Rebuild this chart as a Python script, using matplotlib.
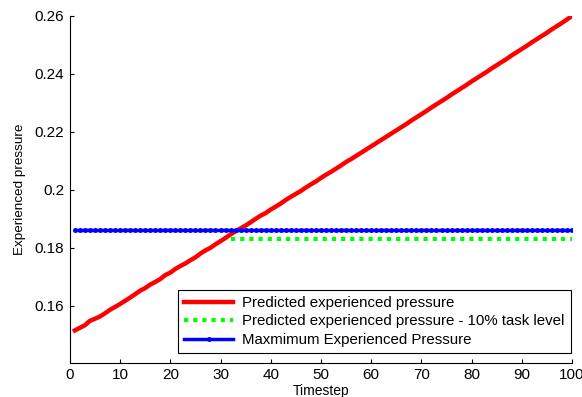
import numpy as np
import matplotlib.pyplot as plt

plt.rcParams['font.family'] = ['Liberation Sans', 'DejaVu Sans']

timesteps = list(range(1, 101))
predicted = [
    0.1515, 0.1524, 0.1533, 0.1548, 0.1555, 0.1563, 0.1574, 0.1586, 0.1596, 0.1606,
    0.1617, 0.1628, 0.1640, 0.1652, 0.1661, 0.1673, 0.1682, 0.1692, 0.1706, 0.1714,
    0.1727, 0.1737, 0.1746, 0.1757, 0.1767, 0.1780, 0.1791, 0.1800, 0.1812, 0.1823,
    0.1834, 0.1846, 0.1857, 0.1867, 0.1877, 0.1888, 0.1900, 0.1911, 0.1920, 0.1932,
    0.1942, 0.1953, 0.1965, 0.1976, 0.1986, 0.1996, 0.2008, 0.2019, 0.2029, 0.2041,
    0.2052, 0.2062, 0.2073, 0.2084, 0.2096, 0.2106, 0.2117, 0.2128, 0.2139, 0.2150,
    0.2161, 0.2172, 0.2183, 0.2194, 0.2205, 0.2216, 0.2227, 0.2239, 0.2250, 0.2261,
    0.2272, 0.2284, 0.2295, 0.2306, 0.2317, 0.2329, 0.2340, 0.2351, 0.2362, 0.2374,
    0.2385, 0.2396, 0.2407, 0.2419, 0.2430, 0.2441, 0.2452, 0.2464, 0.2475, 0.2486,
    0.2497, 0.2509, 0.2520, 0.2531, 0.2542, 0.2554, 0.2565, 0.2576, 0.2588, 0.2600,
]
task_steps = list(range(32, 101))
task_level = [0.1832] * len(task_steps)
max_pressure = [0.186] * len(timesteps)

fig = plt.figure(figsize=(5.82, 3.97), dpi=100)
ax = fig.add_axes([0.120, 0.086, 0.863, 0.874])

ax.plot(timesteps, predicted, color='#ff0000', lw=3.2, label='Predicted experienced pressure')
ax.plot(task_steps, task_level, color='#00ff00', lw=3, ls=(0, (1, 1.2)),
        label='Predicted experienced pressure - 10% task level')
ax.plot(timesteps, max_pressure, color='#0000ff', lw=2.5, marker='.', ms=5,
        label='Maxmimum Experienced Pressure')

ax.set_xlim(0, 100)
ax.set_ylim(0.1403, 0.26)
ax.set_xticks(range(0, 101, 10))
ax.set_yticks([0.16, 0.18, 0.2, 0.22, 0.24, 0.26])
ax.set_yticklabels(['0.16', '0.18', '0.2', '0.22', '0.24', '0.26'])
ax.tick_params(direction='in', labelsize=11, length=3, pad=4)
ax.spines['top'].set_visible(False)
ax.spines['right'].set_visible(False)
ax.set_xlabel('Timestep', fontsize=10, labelpad=1)
ax.set_ylabel('Experienced pressure', fontsize=9.7, labelpad=6)

leg = ax.legend(loc='lower right', bbox_to_anchor=(1.012, 0.007), fontsize=10.8,
                fancybox=False, edgecolor='black', framealpha=1,
                handlelength=3.3, handletextpad=0.6, borderpad=0.4, labelspacing=0.3)
leg.get_frame().set_linewidth(0.8)

fig.savefig('out.png', dpi=100)
